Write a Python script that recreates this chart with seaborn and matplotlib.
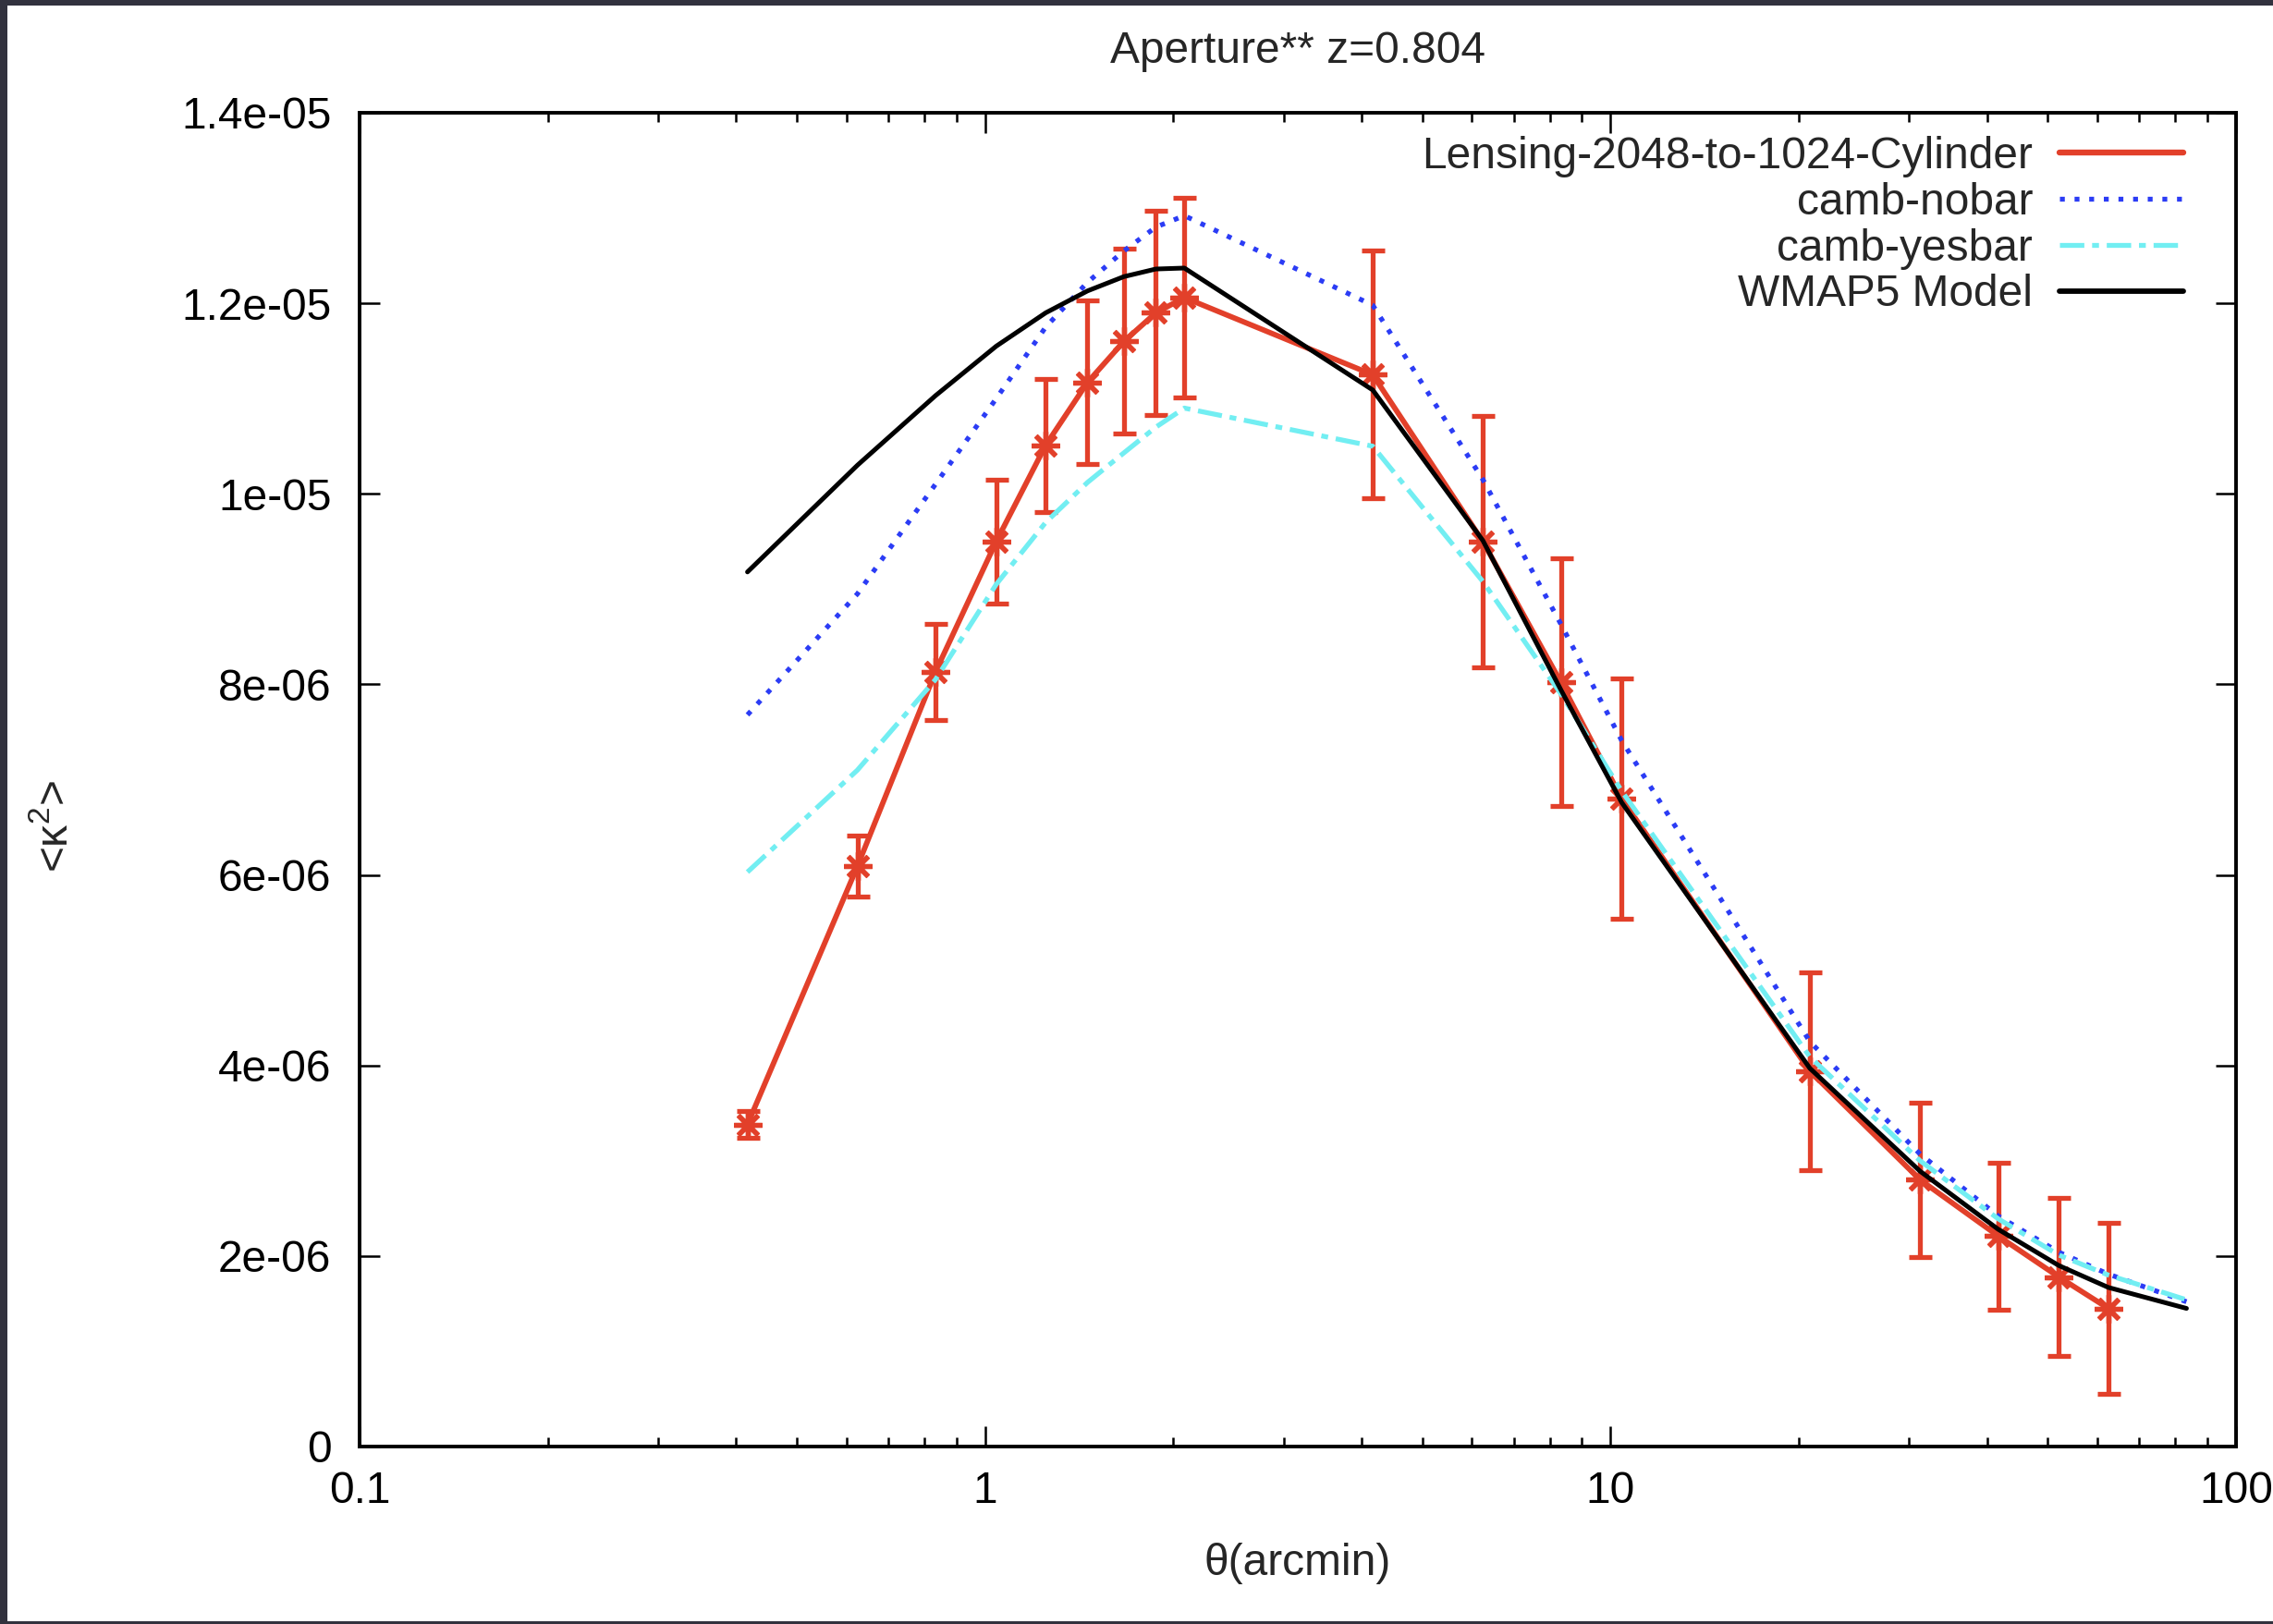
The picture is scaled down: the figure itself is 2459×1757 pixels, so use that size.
import numpy as np
import pandas as pd
import matplotlib
matplotlib.use("Agg")
import matplotlib.pyplot as plt
from matplotlib.lines import Line2D
from matplotlib.patches import Rectangle
import seaborn as sns

# ---------------- data ----------------
title = "Aperture** z=0.804"
xlabel = "θ(arcmin)"
ylabel = "<κ$^{2}$>"

theta_data = [0.417, 0.625, 0.833, 1.042, 1.25, 1.458, 1.667, 1.875, 2.083,
              4.167, 6.25, 8.333, 10.42, 20.83, 31.25, 41.67, 52.08, 62.5]
kappa_data = [3.38e-6, 6.09e-6, 8.13e-6, 9.50e-6, 1.051e-5, 1.117e-5, 1.160e-5,
              1.190e-5, 1.206e-5, 1.125e-5, 9.50e-6, 8.02e-6, 6.80e-6, 3.94e-6,
              2.80e-6, 2.21e-6, 1.78e-6, 1.45e-6]
kappa_err = [0.14e-6, 0.32e-6, 0.50e-6, 0.65e-6, 0.70e-6, 0.86e-6, 0.97e-6,
             1.07e-6, 1.05e-6, 1.30e-6, 1.32e-6, 1.30e-6, 1.26e-6, 1.04e-6,
             0.81e-6, 0.77e-6, 0.83e-6, 0.90e-6]

theta_model = [0.417, 0.625, 0.833, 1.042, 1.25, 1.458, 1.667, 1.875, 2.083,
               4.167, 6.25, 8.333, 10.42, 20.83, 31.25, 41.67, 52.08, 62.5, 83.33]
camb_nobar = [7.68e-6, 8.95e-6, 1.01e-5, 1.10e-5, 1.175e-5, 1.222e-5, 1.255e-5,
              1.280e-5, 1.292e-5, 1.198e-5, 1.015e-5, 8.63e-6, 7.41e-6, 4.25e-6,
              3.07e-6, 2.42e-6, 2.04e-6, 1.81e-6, 1.52e-6]
camb_yesbar = [6.03e-6, 7.10e-6, 8.05e-6, 9.05e-6, 9.70e-6, 1.012e-5, 1.043e-5,
               1.070e-5, 1.090e-5, 1.050e-5, 9.08e-6, 7.90e-6, 6.88e-6, 4.09e-6,
               3.00e-6, 2.39e-6, 2.01e-6, 1.80e-6, 1.54e-6]
wmap5 = [9.18e-6, 1.030e-5, 1.103e-5, 1.155e-5, 1.190e-5, 1.213e-5, 1.228e-5,
         1.236e-5, 1.237e-5, 1.109e-5, 9.51e-6, 7.94e-6, 6.76e-6, 3.97e-6,
         2.89e-6, 2.28e-6, 1.90e-6, 1.67e-6, 1.45e-6]

series_labels = ["Lensing-2048-to-1024-Cylinder", "camb-nobar", "camb-yesbar", "WMAP5 Model"]

xticks = [0.1, 1, 10, 100]
xticklabels = ["0.1", "1", "10", "100"]
yticks = [0, 2e-6, 4e-6, 6e-6, 8e-6, 1e-5, 1.2e-5, 1.4e-5]
yticklabels = ["0", "2e-06", "4e-06", "6e-06", "8e-06", "1e-05", "1.2e-05", "1.4e-05"]

# ---------------- style ----------------
sns.set_theme(style="ticks")
plt.rcParams["font.family"] = ["Liberation Sans", "DejaVu Sans"]
plt.rcParams["mathtext.fontset"] = "custom"
plt.rcParams["mathtext.rm"] = "Liberation Sans"
plt.rcParams["mathtext.it"] = "Liberation Sans:italic"
plt.rcParams["mathtext.bf"] = "Liberation Sans:bold"

FS = 34.5
RED = "#e2402a"
BLUE = "#2b3cf5"
CYAN = "#72eef2"
BLACK = "#000000"

DOT = (0, (1, 2))
DASHDOT = (0, (5, 1.6, 1.4, 1.6))

W, H = 2459, 1757
fig = plt.figure(figsize=(W / 100, H / 100), dpi=100, facecolor="#32323e")
fig.patches.append(Rectangle((8 / W, 3 / H), 1 - 8 / W, 1 - 9 / H,
                             transform=fig.transFigure, facecolor="white",
                             edgecolor="none", zorder=-10))

ax_l, ax_r, ax_t, ax_b = 389, 2419, 122, 1565
ax = fig.add_axes([ax_l / W, 1 - ax_b / H, (ax_r - ax_l) / W, (ax_b - ax_t) / H])
ax.set_facecolor("white")

df_data = pd.DataFrame({"theta": theta_data, "kappa": kappa_data, "err": kappa_err})
df_model = pd.DataFrame({"theta": theta_model, "nobar": camb_nobar,
                         "yesbar": camb_yesbar, "wmap5": wmap5})

# red data with error bars
ax.errorbar(df_data["theta"], df_data["kappa"], yerr=df_data["err"], fmt="none",
            ecolor=RED, elinewidth=3.8, capsize=9, capthick=3.8, zorder=3)
sns.lineplot(data=df_data, x="theta", y="kappa", ax=ax, color=RED, linewidth=4.2,
             marker=(8, 2, 0), markersize=22, markeredgewidth=3.8,
             markeredgecolor=RED, estimator=None, sort=False, legend=False, zorder=3)

sns.lineplot(data=df_model, x="theta", y="nobar", ax=ax, color=BLUE, linewidth=3.8,
             linestyle=DOT, estimator=None, sort=False, legend=False, zorder=4)
sns.lineplot(data=df_model, x="theta", y="yesbar", ax=ax, color=CYAN, linewidth=3.8,
             linestyle=DASHDOT, estimator=None, sort=False, legend=False, zorder=5)
sns.lineplot(data=df_model, x="theta", y="wmap5", ax=ax, color=BLACK, linewidth=3.6,
             estimator=None, sort=False, legend=False, zorder=6)

ax.set_xscale("log")
ax.set_xlim(0.1, 100)
ax.set_ylim(0, 1.4e-5)
ax.set_xticks(xticks)
ax.set_xticklabels(xticklabels)
ax.set_yticks(yticks)
ax.set_yticklabels(yticklabels)
ax.xaxis.set_minor_locator(matplotlib.ticker.LogLocator(base=10, subs=np.arange(2, 10), numticks=20))
ax.xaxis.set_minor_formatter(matplotlib.ticker.NullFormatter())

ax.tick_params(axis="both", which="both", direction="in", top=True, right=True,
               colors="black", labelsize=FS)
ax.tick_params(axis="both", which="major", length=16, width=1.8)
ax.tick_params(axis="x", which="minor", length=7.5, width=1.8)
ax.tick_params(axis="y", which="major", pad=22)
ax.tick_params(axis="x", which="major", pad=19)
for s in ax.spines.values():
    s.set_visible(True)
    s.set_linewidth(2.8)
    s.set_color("black")

ax.set_title(title, fontsize=FS, y=1 + (ax_t - 55) / (ax_b - ax_t), pad=0, va="center")
ax.set_xlabel(xlabel, fontsize=FS)
ax.xaxis.set_label_coords(0.5, -(1692 - ax_b) / (ax_b - ax_t))
ax.xaxis.label.set_va("center")
ax.set_ylabel(ylabel, fontsize=FS)
ax.yaxis.set_label_coords(-(ax_l - 60) / (ax_r - ax_l), (ax_b - 894) / (ax_b - ax_t))
ax.yaxis.label.set_va("center")
ax.yaxis.label.set_ha("center")

handles = [
    Line2D([0], [0], color=RED, linewidth=4.6),
    Line2D([0], [0], color=BLUE, linewidth=3.8, linestyle=DOT),
    Line2D([0], [0], color=CYAN, linewidth=3.8, linestyle=DASHDOT),
    Line2D([0], [0], color=BLACK, linewidth=4.2),
]
ax.legend(handles, series_labels, loc="upper right",
          bbox_to_anchor=((2362 - ax_l) / (ax_r - ax_l), 1 - (147 - ax_t) / (ax_b - ax_t)),
          frameon=False, fontsize=FS, markerfirst=False, handlelength=2.8,
          handletextpad=0.6, labelspacing=0.1, borderaxespad=0, borderpad=0)

fig.savefig("out.png", dpi=100, facecolor=fig.get_facecolor())
